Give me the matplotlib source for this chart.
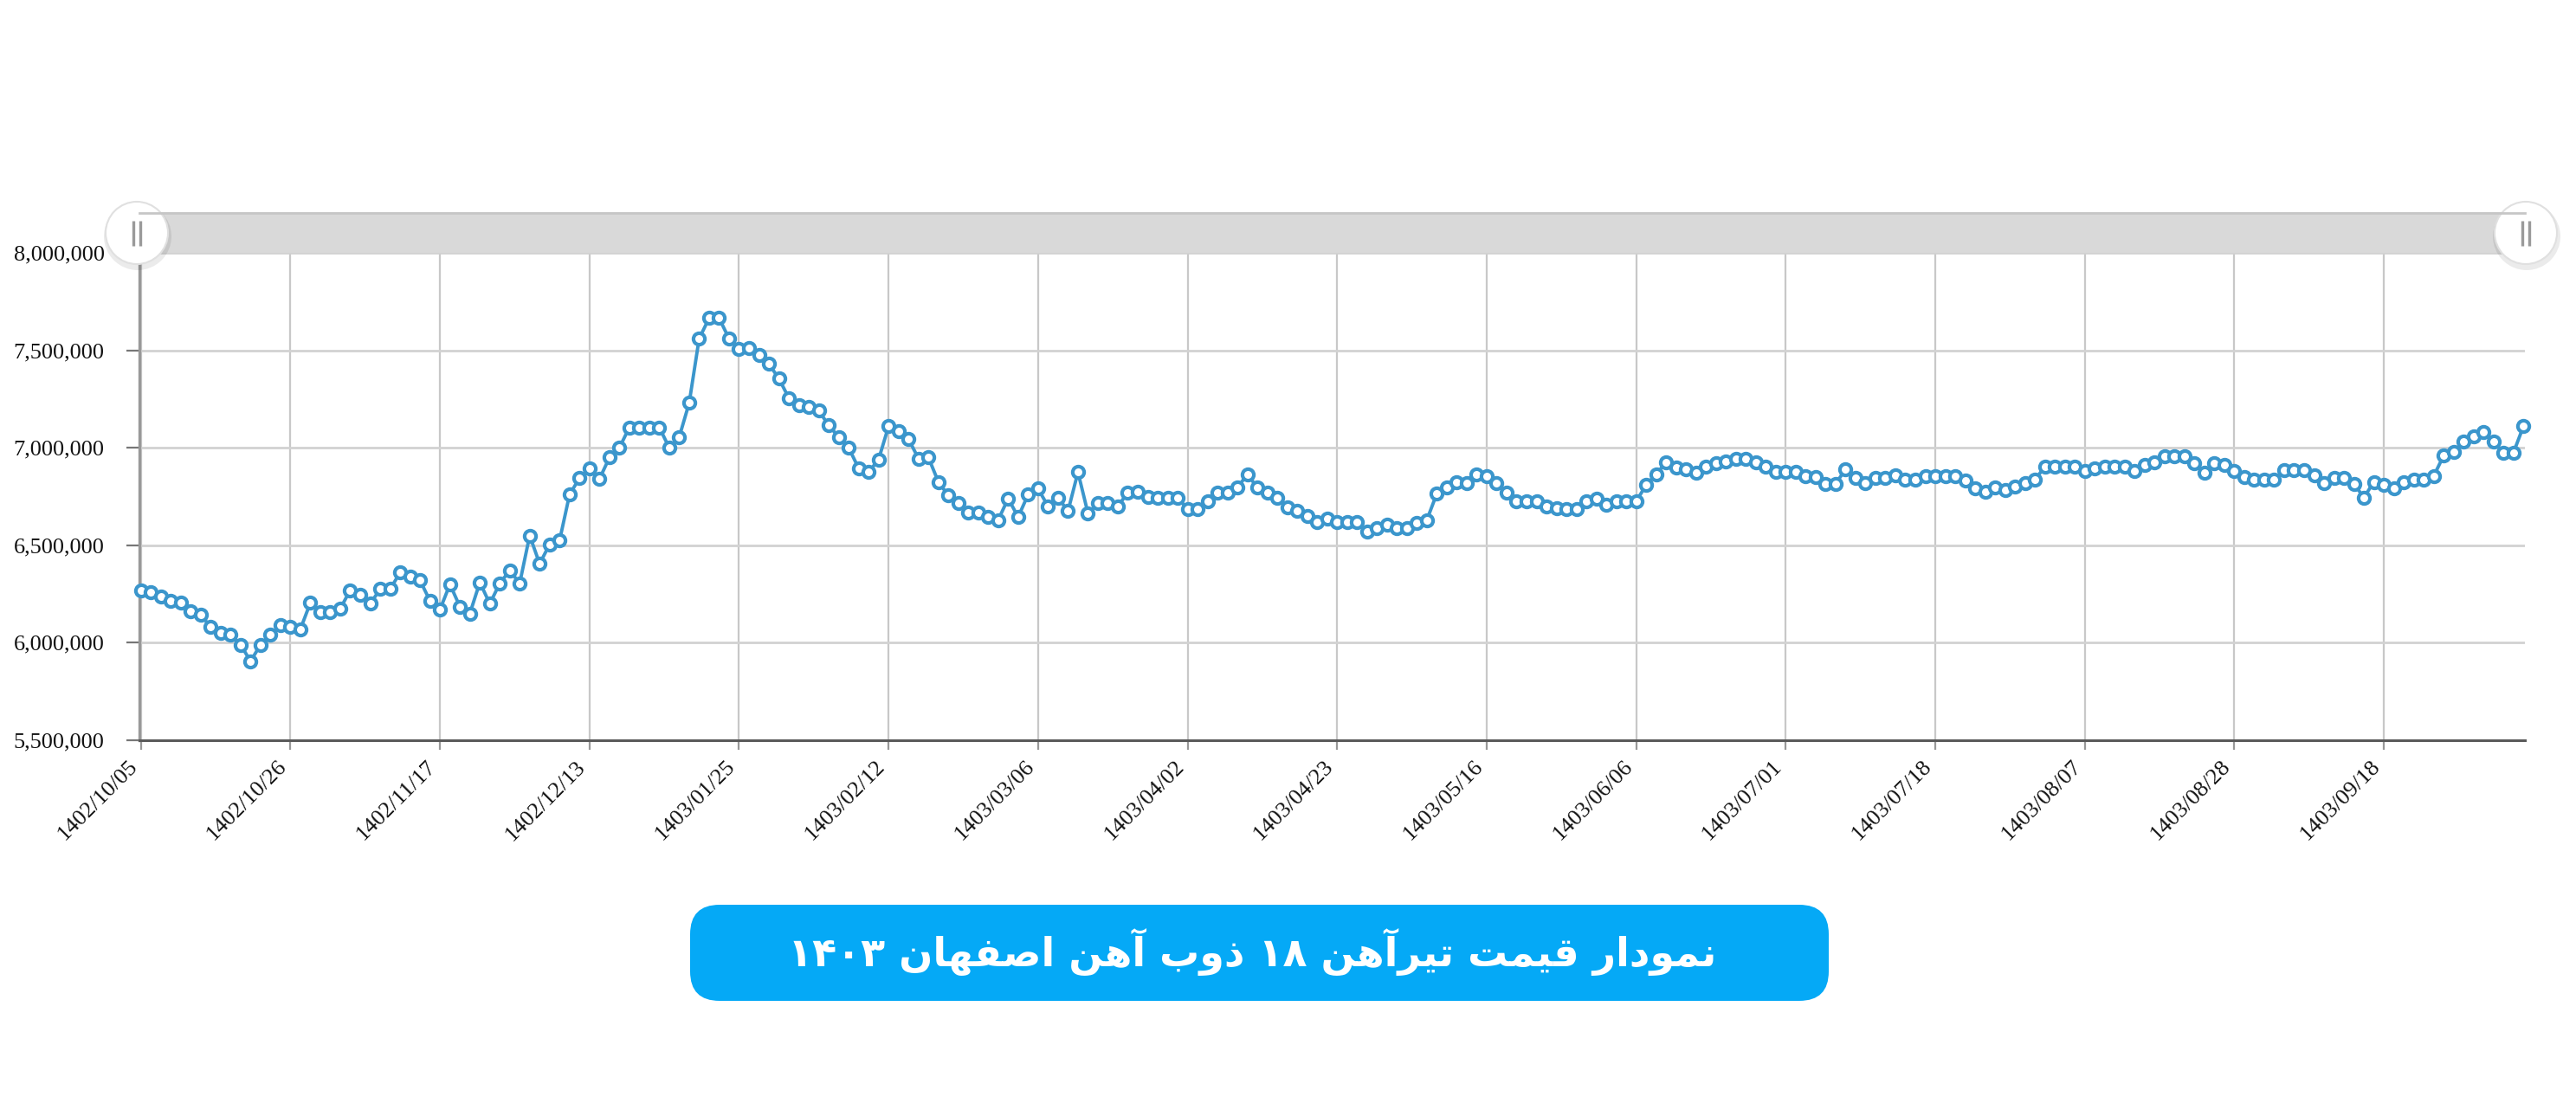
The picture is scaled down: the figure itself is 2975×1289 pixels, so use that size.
import numpy as np
import matplotlib
matplotlib.use("Agg")
import matplotlib.pyplot as plt
import matplotlib.transforms as mtransforms
from matplotlib.patches import Rectangle, Circle, FancyBboxPatch

# daily price of IPE 18 beam (Esfahan steel), in thousand rial
prices_k = [
    6270, 6260, 6235, 6215, 6205, 6160, 6145, 6080, 6050, 6040,
    5990, 5905, 5990, 6040, 6090, 6080, 6070, 6205, 6155, 6155,
    6175, 6270, 6245, 6200, 6275, 6275, 6360, 6340, 6320, 6215,
    6170, 6300, 6185, 6150, 6310, 6200, 6305, 6370, 6305, 6550,
    6405, 6505, 6525, 6760, 6845, 6895, 6840, 6950, 7000, 7105,
    7105, 7105, 7105, 7000, 7055, 7230, 7560, 7665, 7665, 7560,
    7505, 7510, 7475, 7430, 7355, 7255, 7220, 7210, 7190, 7115,
    7055, 7000, 6895, 6875, 6940, 7110, 7085, 7045, 6945, 6950,
    6825, 6755, 6715, 6670, 6670, 6645, 6630, 6740, 6645, 6760,
    6790, 6700, 6745, 6675, 6875, 6665, 6715, 6715, 6700, 6770,
    6775, 6750, 6745, 6745, 6745, 6685, 6685, 6725, 6770, 6770,
    6795, 6865, 6795, 6770, 6745, 6695, 6675, 6650, 6620, 6635,
    6620, 6620, 6620, 6570, 6590, 6605, 6590, 6590, 6615, 6630,
    6765, 6795, 6825, 6820, 6865, 6855, 6820, 6770, 6725, 6725,
    6725, 6700, 6690, 6685, 6685, 6725, 6740, 6710, 6725, 6725,
    6725, 6810, 6865, 6925, 6900, 6890, 6870, 6905, 6920, 6930,
    6945, 6945, 6925, 6905, 6875, 6875, 6875, 6855, 6850, 6815,
    6815, 6890, 6845, 6820, 6845, 6845, 6860, 6835, 6835, 6855,
    6855, 6855, 6855, 6830, 6790, 6775, 6795, 6785, 6800, 6820,
    6835, 6905, 6905, 6905, 6905, 6880, 6895, 6905, 6905, 6905,
    6880, 6910, 6925, 6955, 6955, 6955, 6920, 6870, 6920, 6910,
    6880, 6850, 6835, 6835, 6835, 6885, 6885, 6885, 6860, 6820,
    6845, 6845, 6815, 6745, 6825, 6810, 6790, 6825, 6835, 6835,
    6855, 6960, 6980, 7030, 7060, 7080, 7030, 6975, 6975, 7110,
]

tick_labels = [
    "1402/10/05", "1402/10/26", "1402/11/17", "1402/12/13",
    "1403/01/25", "1403/02/12", "1403/03/06", "1403/04/02",
    "1403/04/23", "1403/05/16", "1403/06/06", "1403/07/01",
    "1403/07/18", "1403/08/07", "1403/08/28", "1403/09/18",
]
tick_step = 15
y_ticks = [5500000, 6000000, 6500000, 7000000, 7500000, 8000000]

title = "نمودار قیمت تیرآهن ۱۸ ذوب آهن اصفهان ۱۴۰۳"

# matplotlib has no arabic shaping, so pick the presentation forms by hand
forms = {
    "\u0627": ("\uFE8D", "\uFE8E", None, None),
    "\u0622": ("\uFE81", "\uFE82", None, None),
    "\u0628": ("\uFE8F", "\uFE90", "\uFE91", "\uFE92"),
    "\u062A": ("\uFE95", "\uFE96", "\uFE97", "\uFE98"),
    "\u062F": ("\uFEA9", "\uFEAA", None, None),
    "\u0630": ("\uFEAB", "\uFEAC", None, None),
    "\u0631": ("\uFEAD", "\uFEAE", None, None),
    "\u0635": ("\uFEB9", "\uFEBA", "\uFEBB", "\uFEBC"),
    "\u0641": ("\uFED1", "\uFED2", "\uFED3", "\uFED4"),
    "\u0642": ("\uFED5", "\uFED6", "\uFED7", "\uFED8"),
    "\u0645": ("\uFEE1", "\uFEE2", "\uFEE3", "\uFEE4"),
    "\u0646": ("\uFEE5", "\uFEE6", "\uFEE7", "\uFEE8"),
    "\u0647": ("\uFEE9", "\uFEEA", "\uFEEB", "\uFEEC"),
    "\u0648": ("\uFEED", "\uFEEE", None, None),
    "\u06CC": ("\uFBFC", "\uFBFD", "\uFBFE", "\uFBFF"),
}


def shape(word):
    out = []
    for i, ch in enumerate(word):
        if ch not in forms:
            out.append(ch)
            continue
        iso, fin, ini, med = forms[ch]
        prev = word[i - 1] if i > 0 else None
        nxt = word[i + 1] if i + 1 < len(word) else None
        jp = prev in forms and forms[prev][2] is not None
        jn = ini is not None and nxt in forms
        if jp and jn:
            out.append(med)
        elif jp:
            out.append(fin)
        elif jn:
            out.append(ini)
        else:
            out.append(iso)
    return "".join(out)


def rtl(text):
    vis = []
    for w in reversed(text.split(" ")):
        if all("\u06F0" <= c <= "\u06F9" for c in w):
            vis.append(w)
        else:
            vis.append(shape(w)[::-1])
    return " ".join(vis)


W, H = 2975, 1289
fig = plt.figure(figsize=(W / 100, H / 100), dpi=100)
fig.patch.set_facecolor("white")

L, R, T, B = 161, 2916, 292, 855
ax = fig.add_axes([L / W, 1 - B / H, (R - L) / W, (B - T) / H])

x = np.arange(len(prices_k))
price = np.array(prices_k) * 1000
blue = "#3b96cc"
ax.plot(x, price, color=blue, lw=2.8, marker="o", ms=9.5, mfc="white",
        mec=blue, mew=3.0, zorder=3, clip_on=False)

ax.set_xlim(-0.15, len(prices_k) - 0.85)
ax.set_ylim(5500000, 8000000)
ax.set_yticks(y_ticks)
ax.set_yticklabels([f"{v:,}" for v in y_ticks])
ax.set_xticks(np.arange(len(tick_labels)) * tick_step)
ax.set_xticklabels(tick_labels, rotation=45, ha="right", va="top")

shift = mtransforms.ScaledTranslation(5 / 100, 0, fig.dpi_scale_trans)
for lab in ax.get_xticklabels():
    lab.set_transform(lab.get_transform() + shift)

for lab in ax.get_xticklabels() + ax.get_yticklabels():
    lab.set_fontfamily("Liberation Serif")
    lab.set_fontsize(19)
    lab.set_color("#111111")

ax.tick_params(axis="y", length=11, width=1.6, color="#777777", pad=18)
ax.tick_params(axis="x", length=8, width=1.6, color="#999999", pad=6)
ax.grid(axis="y", color="#d2d2d2", lw=2)
ax.grid(axis="x", color="#c8c8c8", lw=1.6)
ax.set_axisbelow(True)
for s in ["top", "right"]:
    ax.spines[s].set_visible(False)
ax.spines["left"].set_color("#999999")
ax.spines["left"].set_linewidth(2.4)
ax.spines["bottom"].set_color("#5a5a5a")
ax.spines["bottom"].set_linewidth(2.2)

# overlay in pixel units for the scrollbar and the title badge
ov = fig.add_axes([0, 0, 1, 1], zorder=5)
ov.set_xlim(0, W)
ov.set_ylim(0, H)
ov.axis("off")
ov.patch.set_alpha(0)


def Y(y):
    return H - y


ov.add_patch(Rectangle((L, Y(T)), R - L, T - 245, fc="#d9d9d9", ec="none"))
ov.plot([L, R], [Y(246), Y(246)], color="#c6c6c6", lw=2)

for cx, cy in [(158, 269), (2917, 269)]:
    ov.add_patch(Circle((cx + 1, Y(cy + 4)), 39, fc="black", alpha=0.08, ec="none"))
    ov.add_patch(Circle((cx, Y(cy)), 36, fc="white", ec="#e0e0e0", lw=1.5))
    for dx in (-4, 4):
        ov.plot([cx + dx, cx + dx], [Y(255), Y(284)], color="#9a9a9a", lw=2.4,
                solid_capstyle="butt")

bx0, by0, bx1, by1 = 797, 1045, 2112, 1156
ov.add_patch(FancyBboxPatch((bx0, Y(by1)), bx1 - bx0, by1 - by0,
                            boxstyle="round,pad=0,rounding_size=34",
                            fc="#05a9f6", ec="none"))
ov.text((bx0 + bx1) / 2 - 8, Y(1100), rtl(title), color="white",
        fontsize=33, fontweight="bold", family=["DejaVu Sans"],
        ha="center", va="center")

fig.savefig("out.png", dpi=100, facecolor="white")
